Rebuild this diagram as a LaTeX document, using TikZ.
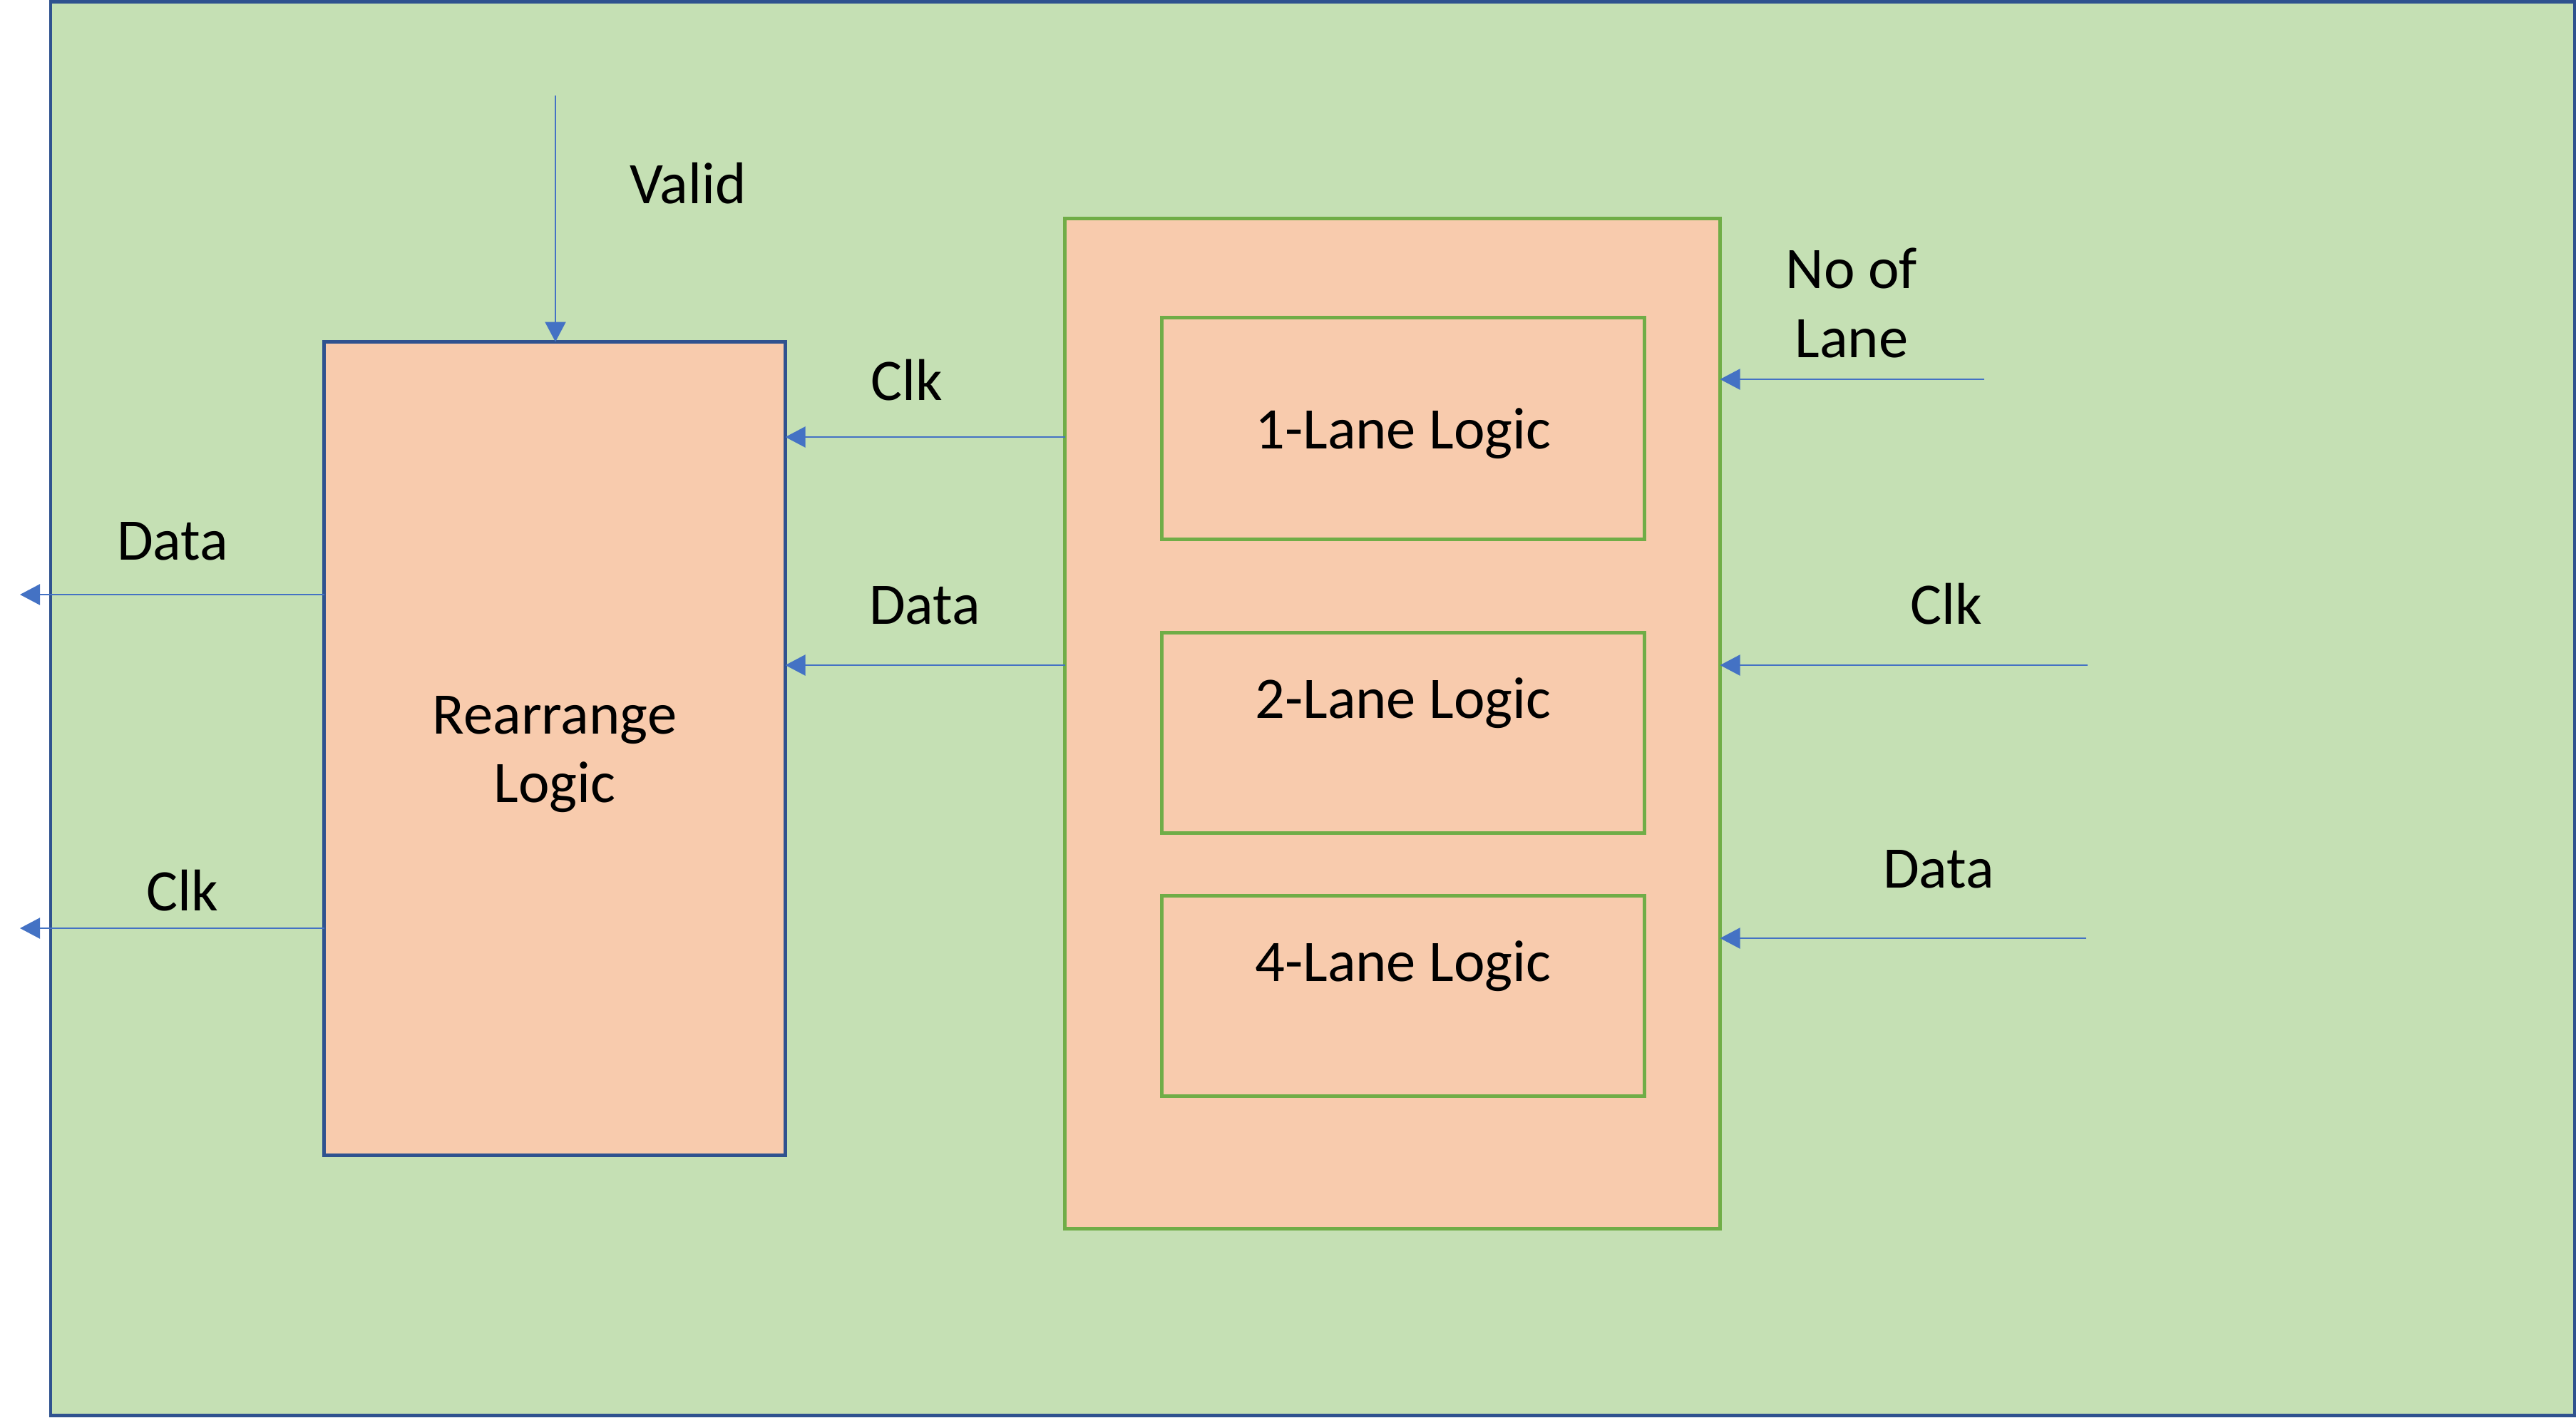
\documentclass[tikz,border=0pt]{standalone}
\usepackage{fontspec}
\setmainfont{Carlito}
\usepackage{tikz}
\usetikzlibrary{arrows.meta}

\definecolor{bggreen}{HTML}{C5E0B4}
\definecolor{boxfill}{HTML}{F8CBAD}
\definecolor{edgeblue}{HTML}{2F528F}
\definecolor{edgegreen}{HTML}{70AD47}
\definecolor{sigblue}{HTML}{4472C4}

\tikzset{
  rlbox/.style={draw=edgeblue, fill=boxfill, line width=1.3pt, inner sep=0pt, outer sep=0pt},
  lanebox/.style={draw=edgegreen, fill=boxfill, line width=1.3pt, inner sep=0pt, outer sep=0pt},
  sig/.style={draw=sigblue, line width=0.65pt, -{Triangle[length=0.28cm,width=0.29cm]}},
  lbl/.style={font=\fontsize{23.5}{27.5}\selectfont, align=center}
}

\begin{document}
\begin{tikzpicture}[lbl]
\useasboundingbox (0,0) rectangle (36.13,-19.88) ;
\node (top) at (18.41,-9.94) [draw=edgeblue, fill=bggreen, line width=1.42pt, inner sep=0pt, outer sep=0pt, minimum width=35.40cm, minimum height=19.83cm] {} ;
% blocks
\node (rl) at (7.78,-10.50) [rlbox, minimum width=6.47cm, minimum height=11.41cm] {} ;
\node (mux) at (19.53,-10.15) [lanebox, minimum width=9.19cm, minimum height=14.17cm] {} ;
\node (l1) at (19.68,-6.01) [lanebox, minimum width=6.77cm, minimum height=3.11cm] {} ;
\node (l2) at (19.68,-10.28) [lanebox, minimum width=6.77cm, minimum height=2.81cm] {} ;
\node (l4) at (19.68,-13.97) [lanebox, minimum width=6.77cm, minimum height=2.81cm] {} ;
\node (rltxt) at (7.78,-10.58) {Rearrange\\Logic} ;
\node (l1txt) at (19.68,-6.08) {1-Lane Logic} ;
\node (l2txt) at (19.68,-9.86) {2-Lane Logic} ;
\node (l4txt) at (19.68,-13.55) {4-Lane Logic} ;
% labels
\node (valid) at (9.65,-2.57) {Valid} ;
\node (clkin) at (12.72,-5.33) {Clk} ;
\node (datain) at (12.97,-8.49) {Data} ;
\node (dataout) at (2.42,-7.59) {Data} ;
\node (clkout) at (2.56,-12.49) {Clk} ;
\node (nolane) at (25.97,-4.25) {No of\\Lane} ;
\node (clkr) at (27.30,-8.47) {Clk} ;
\node (datar) at (27.19,-12.19) {Data} ;
% signal ends
\coordinate (vin) at (7.79,-1.34) ;
\coordinate (yclk) at (0,-6.13) ;
\coordinate (ydat) at (0,-9.33) ;
\coordinate (dout) at (0.28,-8.34) ;
\coordinate (cout) at (0.28,-13.02) ;
\coordinate (nin) at (27.83,-5.32) ;
\coordinate (cin) at (29.28,-9.33) ;
\coordinate (din) at (29.26,-13.16) ;
\draw [sig] (vin) to (vin |- rl.north) ;
\draw [sig] (mux.west |- yclk) to (rl.east |- yclk) ;
\draw [sig] (mux.west |- ydat) to (rl.east |- ydat) ;
\draw [sig] (rl.west |- dout) to (dout) ;
\draw [sig] (rl.west |- cout) to (cout) ;
\draw [sig] (nin) to (mux.east |- nin) ;
\draw [sig] (cin) to (mux.east |- cin) ;
\draw [sig] (din) to (mux.east |- din) ;
\end{tikzpicture}
\end{document}
